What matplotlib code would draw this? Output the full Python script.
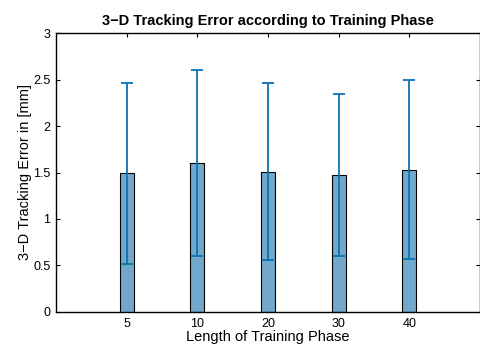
import matplotlib
matplotlib.use("Agg")
import matplotlib.pyplot as plt
import numpy as np

plt.rcParams['font.family'] = ['Liberation Sans', 'DejaVu Sans']

phase_labels = ["5", "10", "20", "30", "40"]
mean_error = [1.49, 1.60, 1.51, 1.47, 1.53]
std_error = [0.97, 1.00, 0.95, 0.87, 0.96]

fig = plt.figure(figsize=(4.81, 3.45), dpi=100)
ax = fig.add_axes([0.1164, 0.0957, 0.8816, 0.8086])

x = np.arange(1, len(phase_labels) + 1)
ax.bar(x, mean_error, width=0.2, color='#72a8cb', edgecolor='black',
       linewidth=0.8, zorder=2)
ax.errorbar(x, mean_error, yerr=std_error, fmt='none', ecolor='#0a72b4',
            elinewidth=1.3, capsize=4, capthick=1.3, zorder=3)

ax.set_xlim(0, 6)
ax.set_ylim(0, 3)
ax.set_xticks(x)
ax.set_xticklabels(phase_labels)
ax.set_yticks([0, 0.5, 1, 1.5, 2, 2.5, 3])
ax.set_yticklabels(["0", "0.5", "1", "1.5", "2", "2.5", "3"])
ax.tick_params(direction='in', top=True, right=True, length=3, width=0.8,
               labelsize=9, pad=4)
ax.tick_params(axis='x', pad=4.5)
for s in ax.spines.values():
    s.set_linewidth(1.0)

ax.set_title("3\u2212D Tracking Error according to Training Phase",
             fontsize=10.5, fontweight='bold', pad=6)
ax.set_xlabel("Length of Training Phase", fontsize=10.5, labelpad=0)
ax.set_ylabel("3\u2212D Tracking Error in [mm]", fontsize=10.5, labelpad=1)

fig.savefig("out.png", dpi=100)
